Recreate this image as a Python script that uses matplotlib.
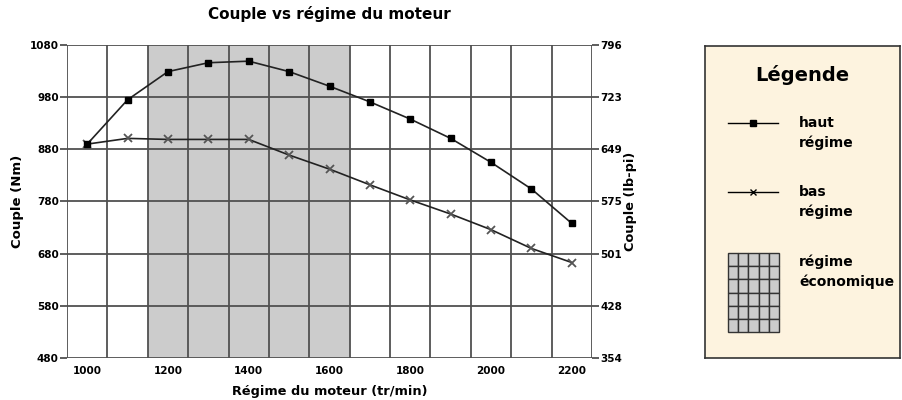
import numpy as np
import matplotlib
matplotlib.use("Agg")
import matplotlib.pyplot as plt
from matplotlib.lines import Line2D
from matplotlib.patches import Rectangle

plt.rcParams["font.family"] = ["DejaVu Sans"]
plt.rcParams["font.weight"] = "bold"

# données
regimes = [1000, 1100, 1200, 1300, 1400, 1500, 1600, 1700, 1800, 1900, 2000, 2100, 2200]
couple_haut = [890, 975, 1029, 1046, 1049, 1029, 1001, 971, 938, 901, 855, 804, 738]
couple_bas = [890, 901, 899, 899, 899, 869, 842, 812, 783, 756, 726, 690, 663]
zone_eco = (1200, 1600)

ticks_nm = [480, 580, 680, 780, 880, 980, 1080]
ticks_lbpi = ["354", "428", "501", "575", "649", "723", "796"]

GRILLE = "#505050"
GRIS = "#cccccc"
CREME = "#fdf3df"

fig = plt.figure(figsize=(9.02, 4.0), dpi=100)
ax = fig.add_axes([67 / 902, 1 - 358 / 400, 525 / 902, 313 / 400])

x = np.arange(len(regimes))
i0 = regimes.index(zone_eco[0])
i1 = regimes.index(zone_eco[1])
ax.axvspan(i0 - 0.5, i1 + 0.5, color=GRIS, zorder=0, lw=0)

ax.plot(x, couple_bas, color="#222222", lw=1.2, marker="x", ms=6, mew=1.3,
        mec="#555555", zorder=3)
ax.plot(x, couple_haut, color="#222222", lw=1.2, marker="s", ms=4, mfc="black",
        mec="black", zorder=4)

ax.set_xlim(-0.5, len(regimes) - 0.5)
ax.set_ylim(ticks_nm[0], ticks_nm[-1])

# grille : lignes entre catégories
for k in range(len(regimes) + 1):
    ax.axvline(k - 0.5, color=GRILLE, lw=1.3, zorder=1)
for v in ticks_nm:
    ax.axhline(v, color=GRILLE, lw=1.3, zorder=1)

ax.set_xticks(x[::2])
ax.set_xticklabels([str(r) for r in regimes[::2]])
ax.set_yticks(ticks_nm)
ax.tick_params(axis="x", length=0, pad=6, labelsize=7.5)
ax.tick_params(axis="y", length=5, width=1.3, color=GRILLE, pad=1, labelsize=7.5)
for s in ax.spines.values():
    s.set_visible(False)

ax2 = ax.twinx()
ax2.set_ylim(ticks_nm[0], ticks_nm[-1])
ax2.set_yticks(ticks_nm)
ax2.set_yticklabels(ticks_lbpi)
ax2.tick_params(axis="y", length=5, width=1.3, color=GRILLE, pad=1, labelsize=7.5)
for s in ax2.spines.values():
    s.set_visible(False)

ax.set_title("Couple vs régime du moteur", fontsize=11, fontweight="bold", pad=19)
ax.set_xlabel("Régime du moteur (tr/min)", fontsize=9.3, fontweight="bold", labelpad=6)
ax.set_ylabel("Couple (Nm)", fontsize=9.5, fontweight="bold", labelpad=4)
ax2.set_ylabel("Couple (lb-pi)", fontsize=9.3, fontweight="bold", labelpad=1)

# légende dans un cadre à part
lg = fig.add_axes([705 / 902, 1 - 358 / 400, 195 / 902, 312 / 400])
lg.set_xlim(0, 195)
lg.set_ylim(312, 0)
lg.set_facecolor(CREME)
lg.set_xticks([])
lg.set_yticks([])
for s in lg.spines.values():
    s.set_linewidth(1.2)
    s.set_color("#333333")

lg.text(97, 29, "Légende", ha="center", va="center", fontsize=14, fontweight="bold")
lg.add_line(Line2D([23, 48, 73], [77, 77, 77], color="black", lw=1.0, marker="s",
                   ms=5, markevery=[1], mfc="black"))
lg.text(94, 87, "haut\nrégime", ha="left", va="center", fontsize=10,
        fontweight="bold", linespacing=1.45)
lg.add_line(Line2D([23, 48, 73], [146, 146, 146], color="black", lw=1.0, marker="x",
                   ms=5, markevery=[1], mew=1.0))
lg.text(94, 156, "bas\nrégime", ha="left", va="center", fontsize=10,
        fontweight="bold", linespacing=1.45)
cw, ch = 51 / 5, 79 / 6
for r in range(6):
    for c in range(5):
        lg.add_patch(Rectangle((23 + c * cw, 207 + r * ch), cw, ch, facecolor=GRIS,
                               edgecolor="#333333", lw=1.0))
lg.text(94, 226, "régime\néconomique", ha="left", va="center", fontsize=10,
        fontweight="bold", linespacing=1.45)

fig.savefig("out.png", dpi=100)
